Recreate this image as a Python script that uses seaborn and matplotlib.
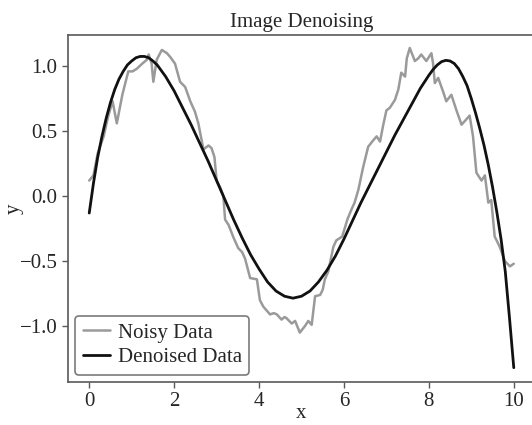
import matplotlib
matplotlib.use("Agg")
import matplotlib.pyplot as plt
import seaborn as sns
import pandas as pd

# Noisy data
noisy_x = [0.0, 0.1, 0.2, 0.34, 0.45, 0.55, 0.65, 0.78, 0.85, 0.92, 1.02, 1.12, 1.25, 1.36,
           1.40, 1.47, 1.51, 1.59, 1.71, 1.83, 1.91, 2.02, 2.14, 2.26, 2.38, 2.49, 2.57,
           2.69, 2.81, 2.88, 2.95, 3.0, 3.08, 3.16, 3.2, 3.28, 3.40, 3.51, 3.60, 3.67,
           3.79, 3.95, 4.02, 4.10, 4.18, 4.26, 4.35, 4.42, 4.53, 4.60, 4.65, 4.77, 4.85,
           4.96, 5.08, 5.16, 5.24, 5.32, 5.44, 5.50, 5.55, 5.63, 5.75, 5.82, 5.87, 5.96,
           6.08, 6.18, 6.25, 6.34, 6.45, 6.57, 6.69, 6.77, 6.85, 6.92, 7.0, 7.08, 7.2,
           7.28, 7.35, 7.44, 7.48, 7.55, 7.67, 7.75, 7.82, 7.94, 8.06, 8.10, 8.14, 8.22,
           8.34, 8.41, 8.53, 8.65, 8.77, 8.88, 8.96, 9.04, 9.12, 9.24, 9.32, 9.40, 9.47,
           9.55, 9.67, 9.79, 9.91, 10.0]
noisy_y = [0.12, 0.16, 0.33, 0.46, 0.62, 0.73, 0.56, 0.78, 0.87, 0.96, 0.96, 0.98, 1.02, 1.05,
           1.09, 1.02, 0.88, 1.05, 1.125, 1.10, 1.07, 1.02, 0.88, 0.84, 0.73, 0.65, 0.56,
           0.36, 0.39, 0.37, 0.30, 0.12, 0.07, 0.0, -0.18, -0.22, -0.32, -0.40, -0.43, -0.48,
           -0.63, -0.64, -0.80, -0.85, -0.88, -0.91, -0.90, -0.91, -0.95, -0.93, -0.94, -0.98, -0.96,
           -1.05, -1.0, -0.96, -0.99, -0.77, -0.76, -0.72, -0.64, -0.58, -0.39, -0.34, -0.33, -0.31,
           -0.18, -0.10, -0.05, 0.05, 0.22, 0.38, 0.43, 0.46, 0.42, 0.54, 0.66, 0.68, 0.74,
           0.82, 0.95, 0.92, 1.06, 1.14, 1.04, 1.06, 1.09, 1.04, 1.10, 1.02, 0.87, 0.91,
           0.80, 0.73, 0.78, 0.66, 0.55, 0.59, 0.62, 0.46, 0.18, 0.12, 0.16, -0.05, -0.03,
           -0.31, -0.39, -0.50, -0.54, -0.52]

# Denoised (smooth) curve
den_x = [0.0, 0.1, 0.2, 0.3, 0.4, 0.5, 0.6, 0.7, 0.8, 0.9, 1.0, 1.1, 1.2, 1.3, 1.4, 1.5,
         1.6, 1.8, 2.0, 2.2, 2.4, 2.6, 2.8, 3.0, 3.2, 3.4, 3.6, 3.8, 4.0, 4.2, 4.4, 4.6,
         4.8, 5.0, 5.2, 5.4, 5.6, 5.8, 6.0, 6.2, 6.4, 6.6, 6.8, 7.0, 7.2, 7.4, 7.6, 7.8,
         8.0, 8.1, 8.2, 8.3, 8.4, 8.5, 8.6, 8.7, 8.8, 8.9, 9.0, 9.1, 9.2, 9.3, 9.4, 9.5,
         9.6, 9.7, 9.8, 9.9, 10.0]
den_y = [-0.13, 0.10, 0.30, 0.46, 0.60, 0.72, 0.82, 0.90, 0.96, 1.01, 1.04, 1.065, 1.075, 1.075,
         1.065, 1.04, 1.01, 0.92, 0.81, 0.68, 0.55, 0.41, 0.27, 0.12, -0.03, -0.18, -0.32,
         -0.45, -0.56, -0.66, -0.73, -0.77, -0.785, -0.77, -0.73, -0.66, -0.57, -0.46, -0.33,
         -0.19, -0.05, 0.08, 0.21, 0.34, 0.47, 0.59, 0.71, 0.83, 0.93, 0.975, 1.01, 1.035,
         1.045, 1.04, 1.02, 0.98, 0.92, 0.85, 0.75, 0.64, 0.52, 0.39, 0.24, 0.07, -0.12,
         -0.33, -0.58, -0.94, -1.32]

noisy = pd.DataFrame({"x": noisy_x, "y": noisy_y})
den = pd.DataFrame({"x": den_x, "y": den_y})

sns.set_style("ticks")
plt.rcParams["font.family"] = ["Liberation Serif", "DejaVu Serif"]
plt.rcParams["axes.edgecolor"] = "0.35"
plt.rcParams["xtick.color"] = "0.35"
plt.rcParams["ytick.color"] = "0.35"
plt.rcParams["xtick.labelcolor"] = "0.15"
plt.rcParams["ytick.labelcolor"] = "0.15"
plt.rcParams["text.color"] = "0.15"
plt.rcParams["axes.labelcolor"] = "0.15"

fig = plt.figure(figsize=(5.32, 4.25), dpi=100)
ax = fig.add_axes([68 / 532, 1 - 382 / 425, (535 - 68) / 532, (382 - 35) / 425])

sns.lineplot(data=noisy, x="x", y="y", ax=ax, color="#9a9a9a", linewidth=1.8,
             label="Noisy Data", sort=False)
sns.lineplot(data=den, x="x", y="y", ax=ax, color="#111111", linewidth=2.0,
             label="Denoised Data", sort=False)

ax.set_xlim(-0.5, 10.5)
ax.set_ylim(-1.43, 1.24)
ax.set_xticks([0, 2, 4, 6, 8, 10])
ax.set_yticks([-1.0, -0.5, 0.0, 0.5, 1.0])
ax.tick_params(labelsize=15, width=1.0, length=4)
ax.set_title("Image Denoising", fontsize=15)
ax.set_xlabel("x", fontsize=15, labelpad=-5)
ax.set_ylabel("y", fontsize=15, labelpad=-3)
for s in ax.spines.values():
    s.set_linewidth(1.2)

leg = ax.legend(loc="lower left", fontsize=15, handlelength=1.3, borderaxespad=0.35,
                frameon=True, fancybox=True, labelspacing=0.25, handletextpad=0.4,
                borderpad=0.35)
leg.get_frame().set_edgecolor("0.35")
leg.get_frame().set_linewidth(1.2)

fig.savefig("out.png", dpi=100)
